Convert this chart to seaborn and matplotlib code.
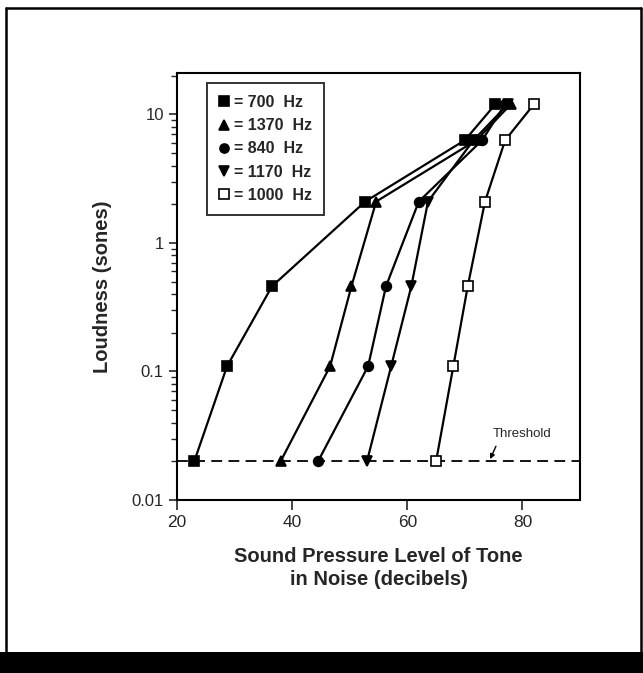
import numpy as np
import pandas as pd
import matplotlib
matplotlib.use("Agg")
import matplotlib.pyplot as plt
from matplotlib.lines import Line2D
from matplotlib.patches import Rectangle
import matplotlib.ticker as mticker
import seaborn as sns

# ---- data ----
loudness = [0.02, 0.11, 0.46, 2.1, 6.3, 12.0]
spl_700 = [23.0, 28.7, 36.5, 52.7, 70.0, 75.3]
spl_1370 = [38.0, 46.6, 50.3, 54.6, 72.0, 78.0]
spl_840 = [44.5, 53.2, 56.3, 62.0, 73.0, 77.0]
spl_1170 = [53.0, 57.2, 60.7, 63.6, 71.5, 77.5]
spl_1000 = [65.0, 68.0, 70.5, 73.5, 77.0, 82.0]
series_names = ["700  Hz", "1370  Hz", "840  Hz", "1170  Hz", "1000  Hz"]
series_spl = [spl_700, spl_1370, spl_840, spl_1170, spl_1000]
series_markers = ["s", "^", "o", "v", "s"]
series_filled = [True, True, True, True, False]
threshold = 0.02
xticks = [20, 40, 60, 80]
yticks = [0.01, 0.1, 1, 10]
ytick_labels = ["0.01", "0.1", "1", "10"]

rows = []
for name, xs in zip(series_names, series_spl):
    for xv, yv in zip(xs, loudness):
        rows.append({"freq": name, "spl": xv, "loud": yv})
df = pd.DataFrame(rows)

sns.set_style("ticks")
plt.rcParams["font.family"] = ["Liberation Sans", "DejaVu Sans"]

fig = plt.figure(figsize=(6.43, 6.73), dpi=100)
ax = fig.add_axes([177/643, 1-500/673, (580-177)/643, (500-73)/673])

for name, mk, filled in zip(series_names, series_markers, series_filled):
    sub = df[df["freq"] == name]
    sns.lineplot(data=sub, x="spl", y="loud", ax=ax, color="black", lw=1.6,
                 marker=mk, markersize=6.5 if mk != "o" else 7,
                 markerfacecolor="black" if filled else "white",
                 markeredgecolor="black", markeredgewidth=1.2,
                 sort=False, estimator=None, legend=False)

ax.axhline(threshold, color="black", lw=1.3, dashes=(6, 3.5), zorder=1)
ax.text(80, 0.0325, "Threshold", ha="center", va="center", fontsize=9.5)
ax.annotate("", xy=(74.4, 0.0208), xytext=(75.4, 0.0262),
            arrowprops=dict(arrowstyle="-|>", color="black", lw=1.0,
                            mutation_scale=7, shrinkA=0, shrinkB=0))

ax.set_yscale("log")
ax.set_xlim(20, 90)
ax.set_ylim(0.01, 21)
ax.set_xticks(xticks)
ax.set_xticklabels([str(t) for t in xticks], fontsize=12.5)
ax.yaxis.set_major_locator(mticker.FixedLocator(yticks))
ax.yaxis.set_major_formatter(mticker.FixedFormatter(ytick_labels))
ax.yaxis.set_minor_locator(mticker.LogLocator(base=10, subs=np.arange(2, 10)))
ax.yaxis.set_minor_formatter(mticker.NullFormatter())
ax.tick_params(axis="y", which="major", length=6, width=1.2, labelsize=12, direction="out")
ax.tick_params(axis="y", which="minor", length=4, width=1.0, direction="out")
ax.tick_params(axis="x", which="major", length=7, width=1.2, direction="out", pad=4)
for s in ax.spines.values():
    s.set_linewidth(1.5)
    s.set_color("black")

ax.set_ylabel("Loudness (sones)", fontsize=14.5, fontweight="heavy", labelpad=14)
ax.set_xlabel("Sound Pressure Level of Tone\nin Noise (decibels)", fontsize=14.5,
              fontweight="heavy", labelpad=12, linespacing=1.25)

handles = []
for mk, filled in zip(series_markers, series_filled):
    handles.append(Line2D([], [], ls="none", marker=mk, color="black",
                          markerfacecolor="black" if filled else "white",
                          markeredgecolor="black", markersize=6.5, markeredgewidth=1.2))
leg = ax.legend(handles, ["= " + n for n in series_names], loc="upper left",
                bbox_to_anchor=(0.074, 0.977), borderaxespad=0, fontsize=11.5,
                frameon=True, fancybox=False, handlelength=0.6, handletextpad=0.35,
                labelspacing=0.52, borderpad=0.75)
leg.get_frame().set_edgecolor("black")
leg.get_frame().set_linewidth(1.4)
for t in leg.get_texts():
    t.set_fontweight("bold")

# outer frame and bottom bar
fig.add_artist(Line2D([6/643, 6/643], [0, 1-8/673], color="black", lw=1.8, transform=fig.transFigure))
fig.add_artist(Line2D([6/643, 641/643], [1-8/673, 1-8/673], color="black", lw=1.8, transform=fig.transFigure))
fig.add_artist(Line2D([641/643, 641/643], [0, 1-8/673], color="black", lw=1.8, transform=fig.transFigure))
fig.add_artist(Rectangle((0, 0), 1, (673-652)/673, transform=fig.transFigure,
                         facecolor="black", edgecolor="none"))

fig.savefig("out.png", dpi=100)
